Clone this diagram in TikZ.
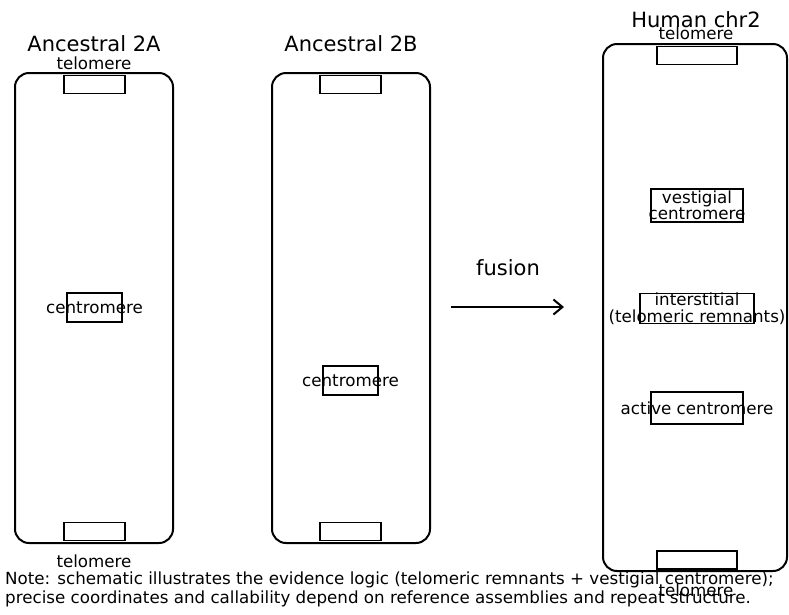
\documentclass[tikz,border=0pt]{standalone}
\usepackage{fontspec}
\setmainfont{DejaVu Sans}
\usetikzlibrary{arrows.meta}

\tikzset{
  chrom/.style={draw, line width=2pt, rounded corners=14pt, minimum width=158pt, minimum height=470pt, inner sep=0pt},
  telbox/.style={draw, line width=1.5pt, minimum width=61pt, minimum height=18pt, inner sep=0pt},
  cenbox/.style={draw, line width=1.5pt, minimum width=55pt, minimum height=29pt, inner sep=0pt},
  title/.style={font=\fontsize{21}{24}\selectfont, inner sep=0pt},
  lbl/.style={font=\fontsize{16.7}{16.5}\selectfont, inner sep=0pt, align=center},
  fusearrow/.style={line width=2pt, -{Straight Barb[length=9pt,width=15pt,line width=2pt]}}
}

\begin{document}
\begin{tikzpicture}[x=1pt, y=-1pt]
\useasboundingbox (0,0) rectangle (789,614);

% ancestral 2A
\node[chrom] (chrA) at (94,308) {};
\node[telbox] (telAtop) at (94.5,84.5) {};
\node[telbox] (telAbot) at (94.5,531.5) {};
\node[cenbox] (cenA) at (94.5,307.5) {};
\node[title] (ttlA) at (94,44) {Ancestral 2A};
\node[lbl] (telAtoptxt) at (94,63) {telomere};
\node[lbl] (telAbottxt) at (94,561) {telomere};
\node[lbl] (cenAtxt) at (cenA) {centromere};

% ancestral 2B
\node[chrom] (chrB) at (351,308) {};
\node[telbox] (telBtop) at (350.5,84.5) {};
\node[telbox] (telBbot) at (350.5,531.5) {};
\node[cenbox] (cenB) at (350.5,380.5) {};
\node[title] (ttlB) at (351,44) {Ancestral 2B};
\node[lbl] (cenBtxt) at (cenB) {centromere};

% fused human chr2
\node[chrom, minimum width=184pt, minimum height=527pt] (chrH) at (695,307.5) {};
\node[telbox, minimum width=80pt] (telHtop) at (697,55.5) {};
\node[telbox, minimum width=80pt] (telHbot) at (697,560) {};
\node[cenbox, minimum width=92pt, minimum height=33pt] (vestH) at (697,205.5) {};
\node[cenbox, minimum width=114pt, minimum height=30pt] (intH) at (697,308.5) {};
\node[cenbox, minimum width=92pt, minimum height=32pt] (actH) at (697,408) {};
\node[title] (ttlH) at (696,20) {Human chr2};
\node[lbl] (telHtoptxt) at (696,33) {telomere};
\node[lbl] (telHbottxt) at (696,590) {telomere};
\node[lbl] (vestHtxt) at (vestH) {vestigial\\centromere};
\node[lbl] (intHtxt) at (intH) {interstitial\\(telomeric remnants)};
\node[lbl] (actHtxt) at (actH) {active centromere};

% fusion arrow
\coordinate (fuseL) at (451,307);
\coordinate (fuseR) at (564,307);
\draw[fusearrow] (fuseL) -- (fuseR);
\node[title] (fusetxt) at (508,268) {fusion};

% note
\node[lbl, anchor=west, align=left, font=\fontsize{16.7}{19}\selectfont] (note) at (5,589.5) {Note: schematic illustrates the evidence logic (telomeric remnants + vestigial centromere);\\precise coordinates and callability depend on reference assemblies and repeat structure.};
\end{tikzpicture}
\end{document}
